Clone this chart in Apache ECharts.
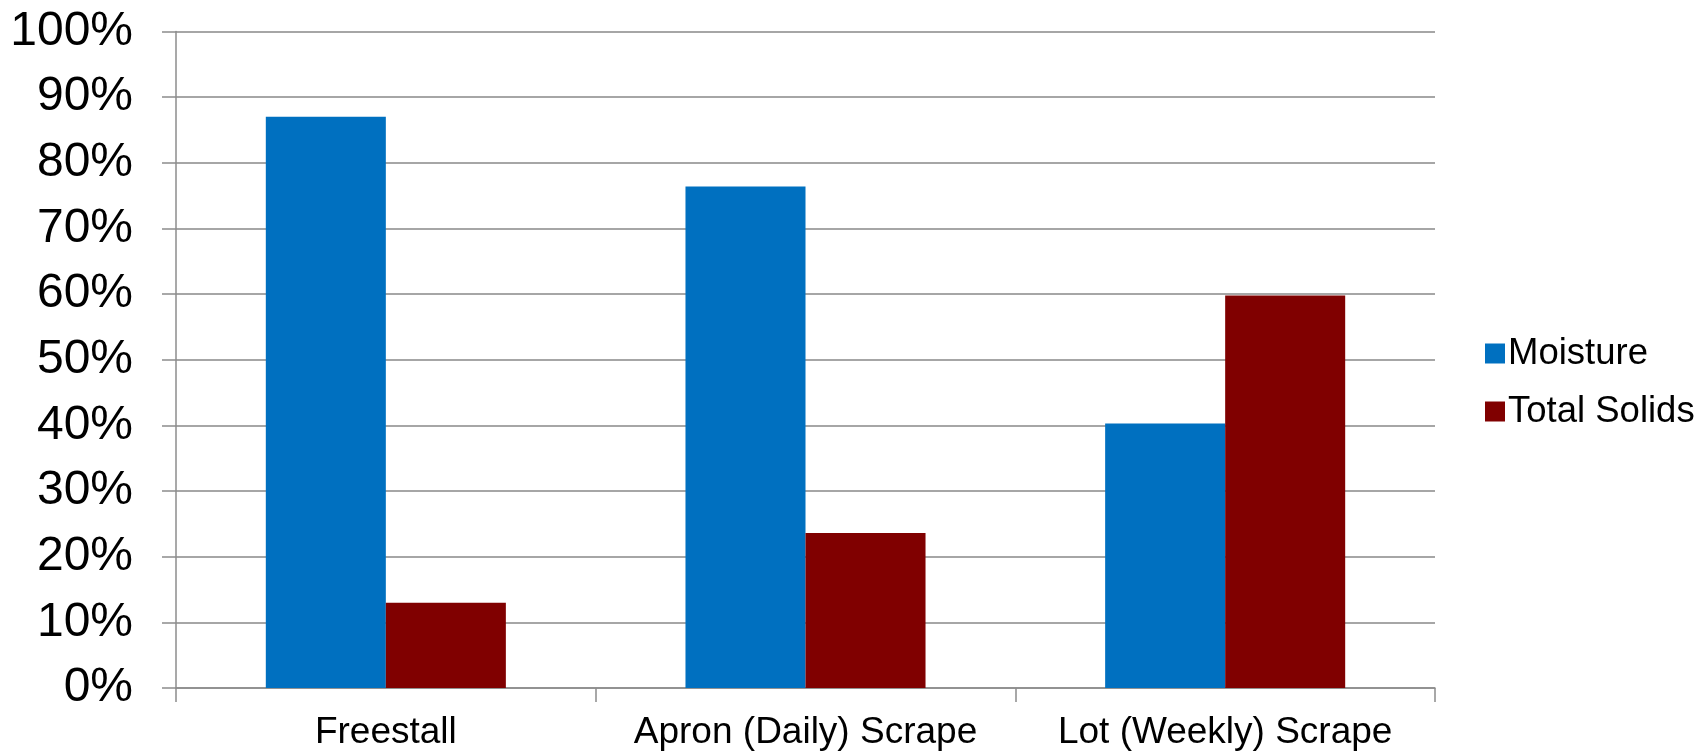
<!DOCTYPE html>
<html>
<head>
<meta charset="utf-8">
<title>Moisture and Total Solids by Manure Source</title>
<script src="https://cdn.jsdelivr.net/npm/echarts@6/dist/echarts.min.js"></script>
<style>
  html, body { margin: 0; padding: 0; background: #ffffff; }
  #chart { width: 1707px; height: 752px; }
</style>
</head>
<body>
<div id="chart"></div>
<script>
// Manure collection sources on the category axis
const categories = ['Freestall', 'Apron (Daily) Scrape', 'Lot (Weekly) Scrape'];

// Share of each sample, in percent
const moisture = [87.0, 76.4, 40.3];
const totalSolids = [13.0, 23.6, 59.8];

// Value axis range and step (percent)
const yMin = 0;
const yMax = 100;
const yStep = 10;

const FONT = '"Liberation Sans", Arial, sans-serif';
const GRID_GRAY = '#A6A6A6';
const AXIS_GRAY = '#8C8C8C';

const chart = echarts.init(document.getElementById('chart'), null, { renderer: 'canvas' });

chart.setOption({
  animation: false,
  backgroundColor: '#ffffff',
  textStyle: { fontFamily: FONT, color: '#000000' },
  grid: {
    left: 176,
    right: 272,
    top: 31.5,
    bottom: 64,
    containLabel: false
  },
  legend: {
    orient: 'vertical',
    left: 1480,
    top: 330,
    itemWidth: 20,
    itemHeight: 20,
    itemGap: 21,
    icon: 'rect',
    textStyle: { fontFamily: FONT, fontSize: 36.5, color: '#000000', padding: [0, 0, 0, -2] },
    data: ['Moisture', 'Total Solids']
  },
  xAxis: {
    type: 'category',
    data: categories,
    boundaryGap: true,
    axisLine: { show: true, lineStyle: { color: AXIS_GRAY, width: 1.5 } },
    axisTick: { show: true, interval: 0, alignWithLabel: false, length: 14, inside: false, lineStyle: { color: AXIS_GRAY, width: 1.5 } },
    axisLabel: { interval: 0, fontFamily: FONT, fontSize: 37, color: '#000000', margin: 26 },
    splitLine: { show: false }
  },
  yAxis: {
    type: 'value',
    min: yMin,
    max: yMax,
    interval: yStep,
    axisLine: { show: true, lineStyle: { color: AXIS_GRAY, width: 1.5 } },
    axisTick: { show: true, length: 14, inside: false, lineStyle: { color: AXIS_GRAY, width: 1.5 } },
    axisLabel: { fontFamily: FONT, fontSize: 48, color: '#000000', margin: 43, formatter: '{value}%' },
    splitLine: { show: true, lineStyle: { color: GRID_GRAY, width: 2 } }
  },
  series: [
    {
      name: 'Moisture',
      type: 'bar',
      data: moisture,
      barGap: '0%',
      barCategoryGap: '42.8%',
      itemStyle: { color: '#0070C0' }
    },
    {
      name: 'Total Solids',
      type: 'bar',
      data: totalSolids,
      barGap: '0%',
      barCategoryGap: '42.8%',
      itemStyle: { color: '#800000' }
    }
  ]
});
</script>
</body>
</html>
